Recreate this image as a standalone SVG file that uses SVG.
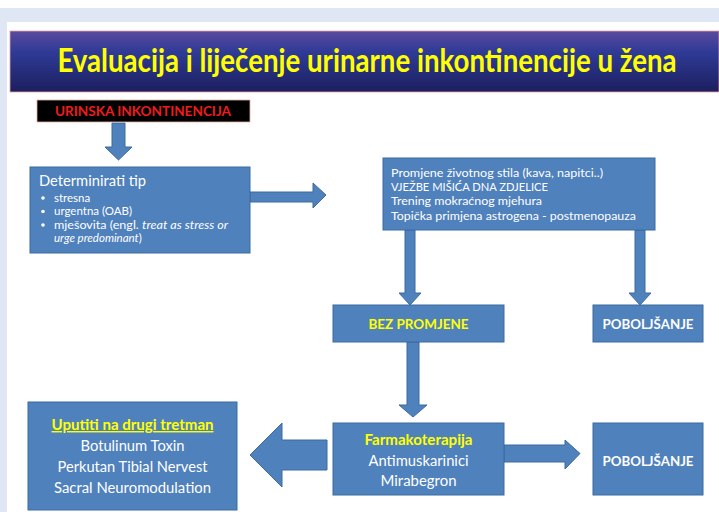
<svg xmlns="http://www.w3.org/2000/svg" width="719" height="512" viewBox="0 0 719 512">
<defs>
<linearGradient id="tg" x1="0" y1="0" x2="0" y2="1">
<stop offset="0" stop-color="#5a4a9e"/>
<stop offset="0.35" stop-color="#2e3a96"/>
<stop offset="1" stop-color="#1c1f5e"/>
</linearGradient>
<style>
.box{fill:#4f81bd;stroke:#3d6a9f;stroke-width:1}
.arr{fill:#4f81bd;stroke:#3d6a9f;stroke-width:1}
.t{font-family:Lato,"Open Sans",sans-serif;fill:#ffffff}
.y{fill:#ffff00;font-weight:bold}
.b{font-weight:bold}
</style>
</defs>
<rect x="0" y="0" width="719" height="512" fill="#ffffff"/>
<rect x="0" y="8" width="719" height="14" fill="#dfe6f4"/>
<rect x="0" y="22" width="7" height="490" fill="#dfe6f4"/>
<g id="title">
<rect x="10" y="31" width="709" height="61" fill="url(#tg)" stroke="#e8a0a0" stroke-width="0.8"/>
<text transform="scale(0.72,1)" x="509.7" y="72" text-anchor="middle" font-family="Lato,'Open Sans',sans-serif" font-size="33" font-weight="bold" fill="#ffff00" textLength="860" lengthAdjust="spacingAndGlyphs">Evaluacija i liječenje urinarne inkontinencije u žena</text>
</g>
<g id="connectors">
<path class="arr" d="M112,123 H125 V147 H132 L118.5,160 L105,147 H112 Z"/>
<path class="arr" d="M250,192 H313 V183 L326,195 L313,208 V202 H250 Z"/>
<path class="arr" d="M405,230 H415 V293 H421 L410,305 L399,293 H405 Z"/>
<path class="arr" d="M635,230 H645 V293 H651 L640,305 L629,293 H635 Z"/>
<path class="arr" d="M407,342 H419 V405 H427 L413,417 L399,405 H407 Z"/>
<path class="arr" d="M504,445 H565 V440 L580,453.5 L565,469 V462 H504 Z"/>
<path class="arr" d="M327,440 H282 V423 L250,455 L282,487 V470 H327 Z"/>
</g>
<g id="urinska">
<rect x="37" y="100" width="213" height="22" fill="#000000" stroke="#e8b0a0" stroke-width="0.8"/>
<text x="143" y="116" text-anchor="middle" font-family="Lato,'Open Sans',sans-serif" font-size="14" font-weight="bold" fill="#ee1c1c" textLength="176" lengthAdjust="spacingAndGlyphs">URINSKA INKONTINENCIJA</text>
</g>
<g id="determinirati">
<rect class="box" x="30" y="167" width="220" height="86"/>
<text class="t" x="39" y="186" font-size="15" textLength="107" lengthAdjust="spacingAndGlyphs">Determinirati tip</text>
<g class="t" font-size="11.5">
<circle cx="43" cy="198" r="1.8" fill="#fff"/>
<text x="54" y="201.5">stresna</text>
<circle cx="43" cy="211.5" r="1.8" fill="#fff"/>
<text x="54" y="215">urgentna (OAB)</text>
<circle cx="43" cy="225" r="1.8" fill="#fff"/>
<text x="54" y="228.5" textLength="174" lengthAdjust="spacingAndGlyphs">mješovita (engl. <tspan font-style="italic">treat as stress or</tspan></text>
<text x="54" y="242"><tspan font-style="italic">urge predominant</tspan>)</text>
</g>
</g>
<g id="lifestyle">
<rect class="box" x="383" y="158" width="272" height="72"/>
<g class="t" font-size="12">
<text x="391" y="177" textLength="212" lengthAdjust="spacingAndGlyphs">Promjene životnog stila (kava, napitci..)</text>
<text x="391" y="191" textLength="157" lengthAdjust="spacingAndGlyphs">VJEŽBE MIŠIĆA DNA ZDJELICE</text>
<text x="391" y="205" textLength="151" lengthAdjust="spacingAndGlyphs">Trening mokraćnog mjehura</text>
<text x="391" y="219.5" textLength="245" lengthAdjust="spacingAndGlyphs">Topička primjena astrogena - postmenopauza</text>
</g>
</g>
<g id="bez">
<rect class="box" x="333" y="305" width="171" height="37"/>
<text class="t y" x="418.5" y="329" text-anchor="middle" font-size="14" textLength="100" lengthAdjust="spacingAndGlyphs">BEZ PROMJENE</text>
</g>
<g id="poboljsanje1">
<rect class="box" x="593" y="305" width="110" height="37"/>
<text class="t b" x="648" y="329" text-anchor="middle" font-size="14" textLength="91" lengthAdjust="spacingAndGlyphs">POBOLJŠANJE</text>
</g>
<g id="farma">
<rect class="box" x="333" y="423" width="171" height="72"/>
<text class="t y" x="418.5" y="445" text-anchor="middle" font-size="14.5" textLength="108" lengthAdjust="spacingAndGlyphs">Farmakoterapija</text>
<text class="t" x="418.5" y="466" text-anchor="middle" font-size="14.5" textLength="100" lengthAdjust="spacingAndGlyphs">Antimuskarinici</text>
<text class="t" x="418.5" y="486" text-anchor="middle" font-size="14.5" textLength="76" lengthAdjust="spacingAndGlyphs">Mirabegron</text>
</g>
<g id="poboljsanje2">
<rect class="box" x="593" y="423" width="110" height="72"/>
<text class="t b" x="648" y="466" text-anchor="middle" font-size="14" textLength="91" lengthAdjust="spacingAndGlyphs">POBOLJŠANJE</text>
</g>
<g id="uputiti">
<rect class="box" x="28" y="402" width="209" height="108"/>
<text class="t y" x="132.5" y="430" text-anchor="middle" font-size="14.5" text-decoration="underline" textLength="162" lengthAdjust="spacingAndGlyphs">Uputiti na drugi tretman</text>
<text class="t" x="132.5" y="451" text-anchor="middle" font-size="14.5" textLength="104" lengthAdjust="spacingAndGlyphs">Botulinum Toxin</text>
<text class="t" x="132.5" y="472" text-anchor="middle" font-size="14.5" textLength="150" lengthAdjust="spacingAndGlyphs">Perkutan Tibial Nervest</text>
<text class="t" x="132.5" y="493" text-anchor="middle" font-size="14.5" textLength="157" lengthAdjust="spacingAndGlyphs">Sacral Neuromodulation</text>
</g>
</svg>
